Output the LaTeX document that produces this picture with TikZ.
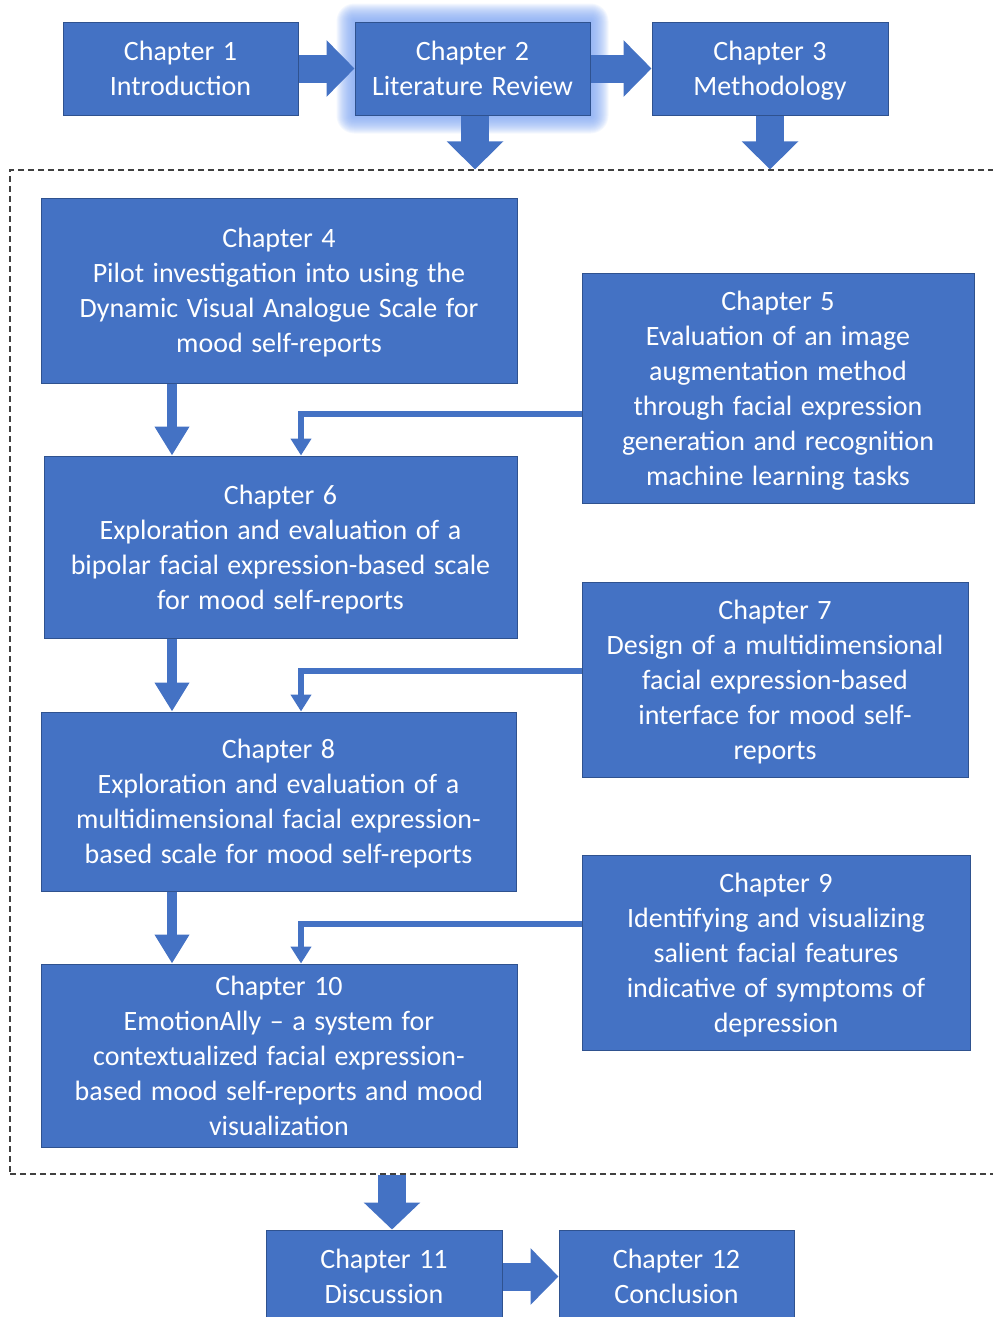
\documentclass[tikz,border=0pt]{standalone}
\usepackage{fontspec}
\setmainfont{Carlito}[WordSpace=1.35]
\usetikzlibrary{arrows.meta,calc,backgrounds}

\definecolor{chapfill}{HTML}{4472C4}
\definecolor{chapedge}{HTML}{2F528F}
\definecolor{glowblue}{HTML}{7FA6F2}
\definecolor{framegray}{HTML}{404040}

\tikzset{
  chap/.style={draw=chapedge, line width=1pt, fill=chapfill, text=white,
    align=center, inner sep=0pt, font=\fontsize{28}{35}\selectfont,
    text depth=0pt},
  bigarrow/.style={draw=chapfill, line width=28pt,
    -{Triangle[width=55pt,length=28pt]}},
  colarrow/.style={draw=chapfill, line width=10pt,
    -{Triangle[width=33pt,length=29pt]}},
  feedarrow/.style={draw=chapfill, line width=6pt,
    -{Triangle[width=20pt,length=17pt]}},
  chapframe/.style={draw=framegray, line width=1.2pt, dash pattern=on 6pt off 4pt}
}

\begin{document}
\begin{tikzpicture}[x=1pt,y=-1pt]
\useasboundingbox (0,0) rectangle (993,1317);

% dashed frame around the core chapters (right side runs off the page)
\node[chapframe, minimum width=1000pt, minimum height=1004pt, inner sep=0pt] (frame) at (510,672) {};

% top row
\node[chap, minimum width=235pt, minimum height=93pt] (c1) at (180.5,68.5) {Chapter 1\\Introduction};
\node[chap, minimum width=235pt, minimum height=93pt] (c2) at (472.5,68.5) {Chapter 2\\Literature Review};
\node[chap, minimum width=236pt, minimum height=93pt] (c3) at (770,68.5) {Chapter 3\\Methodology};

% glow around chapter 2
\begin{pgfonlayer}{background}
  \foreach \g in {1,...,18}
    \fill[glowblue, opacity=0.085, rounded corners=\g pt]
      ($(c2.south west)+(-\g,\g)$) rectangle ($(c2.north east)+(\g,-\g)$);
\end{pgfonlayer}

% left column
\node[chap, minimum width=476pt, minimum height=185pt] (c4) at (279,290.5)
  {Chapter 4\\Pilot investigation into using the\\Dynamic Visual Analogue Scale for\\mood self-reports};
\node[chap, minimum width=473pt, minimum height=182pt] (c6) at (280.5,547)
  {Chapter 6\\Exploration and evaluation of a\\bipolar facial expression-based scale\\for mood self-reports};
\node[chap, minimum width=475pt, minimum height=179pt] (c8) at (278.5,801.5)
  {Chapter 8\\Exploration and evaluation of a\\multidimensional facial expression-\\based scale for mood self-reports};
\node[chap, minimum width=476pt, minimum height=183pt] (c10) at (279,1055.5)
  {Chapter 10\\EmotionAlly – a system for\\contextualized facial expression-\\based mood self-reports and mood\\visualization};

% right column
\node[chap, minimum width=392pt, minimum height=230pt] (c5) at (778,388)
  {Chapter 5\\Evaluation of an image\\augmentation method\\through facial expression\\generation and recognition\\machine learning tasks};
\node[chap, minimum width=386pt, minimum height=195pt] (c7) at (775,679.5)
  {Chapter 7\\Design of a multidimensional\\facial expression-based\\interface for mood self-\\reports};
\node[chap, minimum width=388pt, minimum height=195pt] (c9) at (776,952.5)
  {Chapter 9\\Identifying and visualizing\\salient facial features\\indicative of symptoms of\\depression};

% bottom row
\node[chap, minimum width=236pt, minimum height=93pt] (c11) at (384,1276.5) {Chapter 11\\Discussion};
\node[chap, minimum width=235pt, minimum height=93pt] (c12) at (676.5,1276.5) {Chapter 12\\Conclusion};

% reference columns and rows for the connectors
\coordinate (colT) at (475,0);
\coordinate (colA) at (172,0);
\coordinate (colE) at (301,0);
\coordinate (colB) at (392,0);
\coordinate (r5) at (0,414);
\coordinate (r7) at (0,671);
\coordinate (r9) at (0,924);

% block arrows along the top row
\draw[bigarrow] (c1.east) -- (c2.west);
\draw[bigarrow] (c2.east) -- (c3.west);
\draw[bigarrow] (c2.south -| colT) -- (frame.north -| colT);
\draw[bigarrow] (c3.south) -- (frame.north -| c3.south);

% main chain down the left column
\draw[colarrow] (c4.south -| colA) -- (c6.north -| colA);
\draw[colarrow] (c6.south -| colA) -- (c8.north -| colA);
\draw[colarrow] (c8.south -| colA) -- (c10.north -| colA);

% side chapters feeding into the chain
\draw[feedarrow] (c5.west |- r5) -| (c6.north -| colE);
\draw[feedarrow] (c7.west |- r7) -| (c8.north -| colE);
\draw[feedarrow] (c9.west |- r9) -| (c10.north -| colE);

% out of the frame to the closing chapters
\draw[bigarrow, -{Triangle[width=55pt,length=27pt]}] (frame.south -| colB) -- (c11.north -| colB);
\draw[bigarrow] (c11.east) -- (c12.west);
\end{tikzpicture}
\end{document}
